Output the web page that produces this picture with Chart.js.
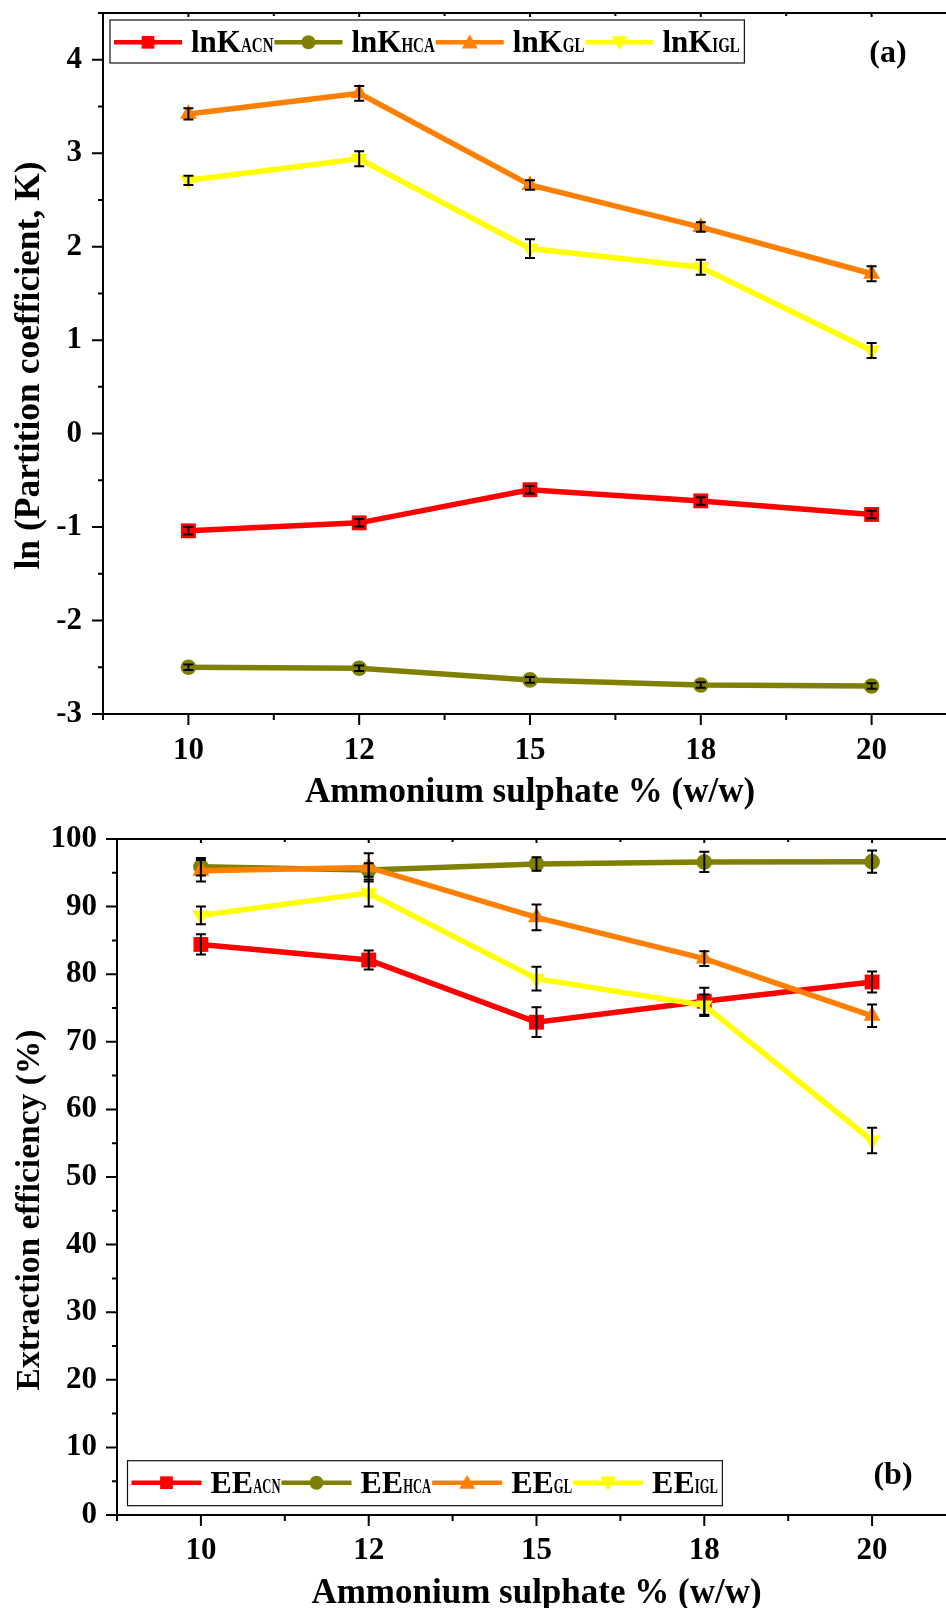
<!DOCTYPE html>
<html>
<head>
<meta charset="utf-8">
<script src="https://cdn.jsdelivr.net/npm/chart.js@4.4.0/dist/chart.umd.min.js"></script>
<style>
  html, body { margin: 0; padding: 0; background: #fff; overflow: hidden; width: 946px; height: 1608px; }
  #wrapA { position: absolute; left: 0; top: 0; }
  #wrapB { position: absolute; left: 0; top: 820px; }
</style>
</head>
<body>
<div id="wrapA"><canvas id="chartA" width="980" height="820"></canvas></div>
<div id="wrapB"><canvas id="chartB" width="980" height="800"></canvas></div>
<script>
// Ammonium sulphate % (w/w)
const sulphate = ['10', '12', '15', '18', '20'];

// (a) ln of partition coefficient
const lnKACN = [-1.04, -0.955, -0.60, -0.72, -0.865];
const lnKACNErr = [0.04, 0.04, 0.04, 0.04, 0.04];
const lnKHCA = [-2.50, -2.51, -2.635, -2.69, -2.70];
const lnKHCAErr = [0.03, 0.03, 0.03, 0.03, 0.03];
const lnKGL = [3.42, 3.64, 2.66, 2.21, 1.71];
const lnKGLErr = [0.06, 0.08, 0.05, 0.05, 0.08];
const lnKIGL = [2.71, 2.94, 1.98, 1.78, 0.89];
const lnKIGLErr = [0.05, 0.08, 0.10, 0.08, 0.08];

// (b) extraction efficiency %
const eeACN = [84.4, 82.1, 72.9, 76.0, 78.85];
const eeACNErr = [1.5, 1.4, 2.2, 2.0, 1.55];
const eeHCA = [95.9, 95.4, 96.3, 96.6, 96.65];
const eeHCAErr = [1.3, 1.0, 1.0, 1.5, 1.65];
const eeGL = [95.3, 95.8, 88.4, 82.3, 73.85];
const eeGLErr = [1.6, 2.1, 1.9, 1.1, 1.65];
const eeIGL = [88.7, 92.0, 79.35, 75.4, 55.4];
const eeIGLErr = [1.3, 2.0, 1.75, 1.6, 1.9];

const yTicksA = [-3, -2, -1, 0, 1, 2, 3, 4];
const yTicksB = [0, 10, 20, 30, 40, 50, 60, 70, 80, 90, 100];

const FONT = '"Liberation Serif", "Times New Roman", serif';
const RED = '#ff0000', OLIVE = '#808000', ORANGE = '#ff8000', YELLOW = '#ffff00';
const series = [
  { key: 'ACN', color: RED, style: 'rect', radius: 10.5, rot: 0 },
  { key: 'HCA', color: OLIVE, style: 'circle', radius: 7.8, rot: 0 },
  { key: 'GL', color: ORANGE, style: 'triangle', radius: 9.8, rot: 0 },
  { key: 'IGL', color: YELLOW, style: 'triangle', radius: 9.8, rot: 180 },
];

function toPoints(vals) {
  return vals.map((v, i) => ({ x: i, y: v }));
}

function makeDatasets(prefix, values, errors) {
  return series.map((s, i) => ({
    label: prefix + s.key,
    data: toPoints(values[i]),
    errors: errors[i],
    borderColor: s.color,
    backgroundColor: s.color,
    borderWidth: 5.5,
    pointStyle: s.style,
    pointRadius: s.radius,
    pointRotation: s.rot,
    pointBorderWidth: 0,
    tension: 0,
    order: 3 - i,
    clip: false,
  }));
}

// box, ticks in and out, y title
const framePlugin = {
  id: 'frame',
  beforeDatasetsDraw(chart, args, opts) {
    const { ctx, chartArea: a, scales: { x, y } } = chart;
    ctx.save();
    ctx.strokeStyle = '#000';
    ctx.lineWidth = 2;
    ctx.strokeRect(a.left, a.top, a.right - a.left, a.bottom - a.top);
    ctx.beginPath();
    for (let v = x.min; v <= x.max + 1e-6; v += 0.5) {
      const px = x.getPixelForValue(v);
      const major = Math.abs(v - Math.round(v)) < 1e-6;
      ctx.moveTo(px, a.bottom);
      ctx.lineTo(px, a.bottom + (major ? 11 : 6));
      ctx.moveTo(px, a.top);
      ctx.lineTo(px, a.top + (major ? 4 : 3));
    }
    for (let v = y.min; v <= y.max + 1e-6; v += opts.minor) {
      const py = y.getPixelForValue(v);
      const r = v / opts.major;
      const major = Math.abs(r - Math.round(r)) < 1e-6;
      ctx.moveTo(a.left, py);
      ctx.lineTo(a.left - (major ? 11 : 5), py);
    }
    ctx.stroke();

    ctx.translate(opts.titleX, (a.top + a.bottom) / 2 + opts.titleShift);
    ctx.rotate(-Math.PI / 2);
    ctx.fillStyle = '#000';
    ctx.font = 'bold ' + opts.titleSize + 'px ' + FONT;
    ctx.textAlign = 'center';
    ctx.textBaseline = 'middle';
    ctx.fillText(opts.title, 0, 0);
    ctx.restore();
  }
};

const errorBarPlugin = {
  id: 'errbars',
  afterDatasetsDraw(chart) {
    const { ctx, scales: { x, y } } = chart;
    ctx.save();
    ctx.strokeStyle = '#000';
    ctx.lineWidth = 2;
    chart.data.datasets.forEach(ds => {
      ds.data.forEach((p, i) => {
        const e = ds.errors[i];
        const px = x.getPixelForValue(p.x);
        const top = y.getPixelForValue(p.y + e);
        const bot = y.getPixelForValue(p.y - e);
        ctx.beginPath();
        ctx.moveTo(px, top); ctx.lineTo(px, bot);
        ctx.moveTo(px - 5, top); ctx.lineTo(px + 5, top);
        ctx.moveTo(px - 5, bot); ctx.lineTo(px + 5, bot);
        ctx.stroke();
      });
    });
    ctx.restore();
  }
};

// legend with subscripts, plus panel letter
const legendPlugin = {
  id: 'subLegend',
  afterDraw(chart, args, o) {
    const { ctx, chartArea: a } = chart;
    ctx.save();
    const left = a.left + o.dx;
    const top = o.fromBottom ? a.bottom - o.dy - o.h : a.top + o.dy;
    const lineY = top + o.lineOff;
    const base = top + o.baseOff;
    let cx = left + 4;
    ctx.textBaseline = 'alphabetic';
    ctx.textAlign = 'left';
    series.forEach(s => {
      ctx.strokeStyle = s.color;
      ctx.lineWidth = 4.5;
      ctx.beginPath();
      ctx.moveTo(cx, lineY); ctx.lineTo(cx + o.symLen, lineY);
      ctx.stroke();
      ctx.fillStyle = s.color;
      const r = s.style === 'circle' ? 7 : (s.style === 'rect' ? 9 : 9.2);
      Chart.helpers.drawPoint(ctx, {
        pointStyle: s.style, radius: r, rotation: s.rot, borderWidth: 0
      }, cx + o.symLen / 2, s.style === 'triangle' ? lineY + (s.rot ? -1.5 : 1.5) : lineY);
      cx += o.symLen + 9;
      ctx.fillStyle = '#000';
      ctx.font = 'bold ' + o.mainSize + 'px ' + FONT;
      ctx.fillText(o.prefix, cx, base);
      cx += ctx.measureText(o.prefix).width;
      ctx.font = 'bold ' + o.subSize + 'px ' + FONT;
      const w = ctx.measureText(s.key).width * o.squeeze;
      ctx.fillText(s.key, cx, base, w);
      cx += w + 1;
    });
    ctx.strokeStyle = '#111';
    ctx.lineWidth = 1.2;
    ctx.strokeRect(left, top, cx + 3.5 - left, o.h);
    ctx.fillStyle = '#000';
    ctx.font = 'bold 32px ' + FONT;
    ctx.textAlign = 'center';
    ctx.fillText(o.panel, o.panelX, o.panelY);
    ctx.restore();
  }
};

function noPad(s) {
  s.paddingTop = 0; s.paddingBottom = 0; s.paddingLeft = 0; s.paddingRight = 0;
}

function makeChart(id, cfg) {
  const tickFont = { family: FONT, size: 31, weight: 'bold' };
  const titleFont = { family: FONT, size: 35, weight: 'bold' };
  return new Chart(document.getElementById(id), {
    type: 'line',
    data: { datasets: cfg.datasets },
    options: {
      responsive: false,
      animation: false,
      events: [],
      layout: { padding: cfg.padding },
      plugins: {
        legend: { display: false },
        tooltip: { enabled: false },
        frame: cfg.frame,
        subLegend: cfg.legend,
      },
      scales: {
        x: {
          type: 'linear',
          min: -0.5,
          max: 4.5,
          afterBuildTicks: s => { s.ticks = sulphate.map((_, i) => ({ value: i })); },
          afterFit: s => { s.height = cfg.xHeight; noPad(s); },
          ticks: {
            callback: v => sulphate[v],
            font: tickFont, color: '#000', padding: cfg.xPad,
            maxRotation: 0, autoSkip: false,
          },
          grid: { display: false, drawTicks: false },
          border: { display: false },
          title: {
            display: true, text: 'Ammonium sulphate % (w/w)',
            font: titleFont, color: '#000', padding: { top: 0, bottom: cfg.xTitlePad },
          },
        },
        y: {
          min: cfg.yMin,
          max: cfg.yMax,
          afterBuildTicks: s => { s.ticks = cfg.yTicks.map(v => ({ value: v })); },
          afterFit: s => { s.width = cfg.yWidth; noPad(s); },
          ticks: { callback: v => String(v), font: tickFont, color: '#000', padding: cfg.yPad },
          grid: { display: false, drawTicks: false },
          border: { display: false },
        },
      },
    },
    plugins: [framePlugin, errorBarPlugin, legendPlugin],
  });
}

makeChart('chartA', {
  datasets: makeDatasets('lnK', [lnKACN, lnKHCA, lnKGL, lnKIGL], [lnKACNErr, lnKHCAErr, lnKGLErr, lnKIGLErr]),
  padding: { left: 0, top: 13, right: 23, bottom: 0 },
  xHeight: 106, xPad: 18, xTitlePad: 6,
  yMin: -3, yMax: 4.5, yTicks: yTicksA, yWidth: 103, yPad: 21,
  frame: { minor: 0.5, major: 1, title: 'ln (Partition coefficient, K)', titleSize: 35.5, titleX: 30, titleShift: 2 },
  legend: {
    prefix: 'lnK', dx: 7, dy: 7, h: 43, fromBottom: false, lineOff: 22.3, baseOff: 32.3,
    symLen: 68, mainSize: 31, subSize: 20, squeeze: 0.75,
    panel: '(a)', panelX: 888, panelY: 62,
  },
});

makeChart('chartB', {
  datasets: makeDatasets('EE', [eeACN, eeHCA, eeGL, eeIGL], [eeACNErr, eeHCAErr, eeGLErr, eeIGLErr]),
  padding: { left: 0, top: 19, right: 24, bottom: 0 },
  xHeight: 105, xPad: 17, xTitlePad: 5,
  yMin: 0, yMax: 100, yTicks: yTicksB, yWidth: 117, yPad: 20,
  frame: { minor: 5, major: 10, title: 'Extraction efficiency (%)', titleSize: 33.5, titleX: 30, titleShift: 33 },
  legend: {
    prefix: 'EE', dx: 10.5, dy: 9.3, h: 45, fromBottom: true, lineOff: 22, baseOff: 32.6,
    symLen: 70, mainSize: 32, subSize: 21, squeeze: 0.6,
    panel: '(b)', panelX: 893, panelY: 664,
  },
});
</script>
</body>
</html>
